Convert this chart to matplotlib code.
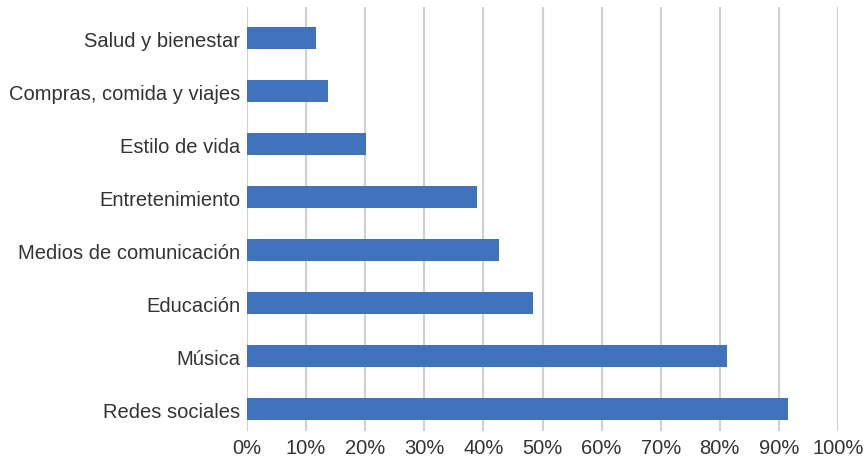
import numpy as np
from matplotlib import pyplot as plt
from matplotlib.ticker import PercentFormatter

categories = ["Salud y bienestar", "Compras, comida y viajes", "Estilo de vida",
              "Entretenimiento", "Medios de comunicación", "Educación",
              "Música", "Redes sociales"]
values = [11.7, 13.7, 20.1, 39.0, 42.6, 48.4, 81.3, 91.6]
xticks = list(range(0, 101, 10))

plt.rcParams['font.family'] = ['Liberation Sans', 'DejaVu Sans']

fig = plt.figure(figsize=(8.66, 4.6), dpi=100)
ax = fig.add_axes([247 / 866, 28 / 460, 591 / 866, 424 / 460])

y = np.arange(len(categories))
ax.barh(y, values, height=0.42, color='#4173BD', zorder=3)
ax.set_ylim(len(categories) - 0.585, -0.585)
ax.set_yticks(y)
ax.set_yticklabels(categories)
ax.set_xlim(0, 100)
ax.set_xticks(xticks)
ax.xaxis.set_major_formatter(PercentFormatter(decimals=0))
ax.grid(axis='x', color='#d0d0d0', linewidth=1.5, zorder=0)
for s in ax.spines.values():
    s.set_visible(False)
ax.tick_params(length=0, labelsize=14.5, colors='#333333', pad=5)
ax.tick_params(axis='x', pad=5)

fig.savefig('out.png', dpi=100)
